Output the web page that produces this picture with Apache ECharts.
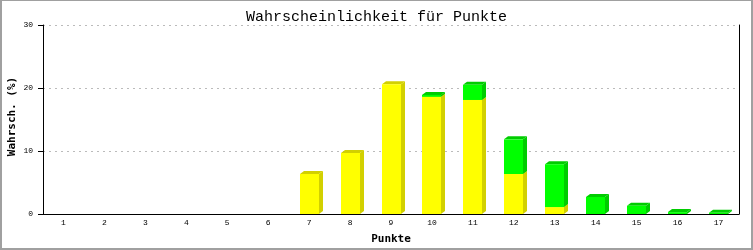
<!DOCTYPE html>
<html>
<head>
<meta charset="utf-8">
<script src="https://cdn.jsdelivr.net/npm/echarts@6/dist/echarts.min.js"></script>
<style>
html,body{margin:0;padding:0;background:#fff;}
#c{width:753px;height:250px;}
</style>
</head>
<body>
<div id="c"></div>
<script>
const categories = ['1','2','3','4','5','6','7','8','9','10','11','12','13','14','15','16','17'];
const yellowVals = [null,null,null,null,null,null,6.35,9.7,20.6,18.6,18.1,6.35,1.1,null,null,null,null];
const greenVals  = [null,null,null,null,null,null,null,null,null,0.3,2.4,5.5,6.8,2.7,1.3,0.3,0.2];
const yTicks = [0,10,20,30];

const chart = echarts.init(document.getElementById('c'), null, {renderer:'canvas'});
const data = categories.map((c,i)=>[i, yellowVals[i]||0, greenVals[i]||0]);
const DX = 4, DY = 3;

function renderItem(params, api){
  const i = api.value(0), y = api.value(1), g = api.value(2);
  const band = api.size([1,0])[0];
  const bw = Math.round(band*0.465);
  const p0 = api.coord([i,0]), p1 = api.coord([i,y]), p2 = api.coord([i,y+g]);
  const xl = Math.round(p0[0]-bw/2), xr = xl+bw;
  const children = [];
  function seg(yb, yt, front, dark){
    if (yb-yt <= 0.01) return;
    children.push({type:'polygon', shape:{points:[[xr,yb],[xr,yt],[xr+DX,yt-DY],[xr+DX,yb-DY]]}, style:{fill:dark}});
    children.push({type:'polygon', shape:{points:[[xl,yt],[xl+DX,yt-DY],[xr+DX,yt-DY],[xr,yt]]}, style:{fill:dark}});
    children.push({type:'rect', shape:{x:xl, y:yt, width:bw, height:yb-yt}, style:{fill:front}});
  }
  seg(p0[1], p1[1], '#ffff00', '#d2d000');
  seg(p1[1], p2[1], '#00ff00', '#00cc00');
  return {type:'group', children};
}

chart.setOption({
  animation:false,
  backgroundColor:'#ffffff',
  title:{
    text:'Wahrscheinlichkeit für Punkte',
    left:'center', top:5,
    textStyle:{fontFamily:'Liberation Mono', fontSize:15, fontWeight:'normal', color:'#000'}
  },
  grid:{left:43, right:14, top:25, bottom:36, containLabel:false, outerBoundsMode:'none'},
  xAxis:{
    type:'category', data:categories,
    name:'Punkte', nameLocation:'middle', nameGap:20, nameMoveOverlap:false,
    nameTextStyle:{fontFamily:'DejaVu Sans Mono', fontWeight:'bold', fontSize:11, color:'#000'},
    axisLine:{lineStyle:{color:'#000', width:1}},
    axisTick:{show:false},
    axisLabel:{fontFamily:'Liberation Mono', fontSize:8, color:'#000', margin:5}
  },
  yAxis:[{
    type:'value', min:0, max:30, interval:10,
    name:'Wahrsch. (%)', nameLocation:'middle', nameGap:25, nameMoveOverlap:false,
    nameTextStyle:{fontFamily:'DejaVu Sans Mono', fontWeight:'bold', fontSize:11, color:'#000', padding:[0,0,0,6]},
    axisLine:{show:true, lineStyle:{color:'#000', width:1}},
    axisTick:{show:true, length:5, lineStyle:{color:'#000'}},
    axisLabel:{fontFamily:'Liberation Mono', fontSize:8, color:'#000', margin:10,
      formatter:v=>yTicks.includes(v)?String(v):''},
    splitLine:{show:true, lineStyle:{color:'#bbbbbb', type:[2,4], width:1}}
  },{
    type:'value', min:0, max:30, interval:10, position:'right',
    axisLine:{show:true, lineStyle:{color:'#000', width:1}},
    axisTick:{show:false}, axisLabel:{show:false}, splitLine:{show:false}
  }],
  graphic:[
    {type:'rect', shape:{x:0, y:0, width:753, height:1}, style:{fill:'#a0a0a0'}, z:100},
    {type:'rect', shape:{x:0, y:0, width:2, height:250}, style:{fill:'#a0a0a0'}, z:100},
    {type:'rect', shape:{x:751, y:0, width:2, height:250}, style:{fill:'#a0a0a0'}, z:100},
    {type:'rect', shape:{x:0, y:248, width:753, height:2}, style:{fill:'#a0a0a0'}, z:100}
  ],
  series:[{
    type:'custom', renderItem, data,
    encode:{x:0, y:[1,2]}, clip:false, z:1
  }]
});
</script>
</body>
</html>
